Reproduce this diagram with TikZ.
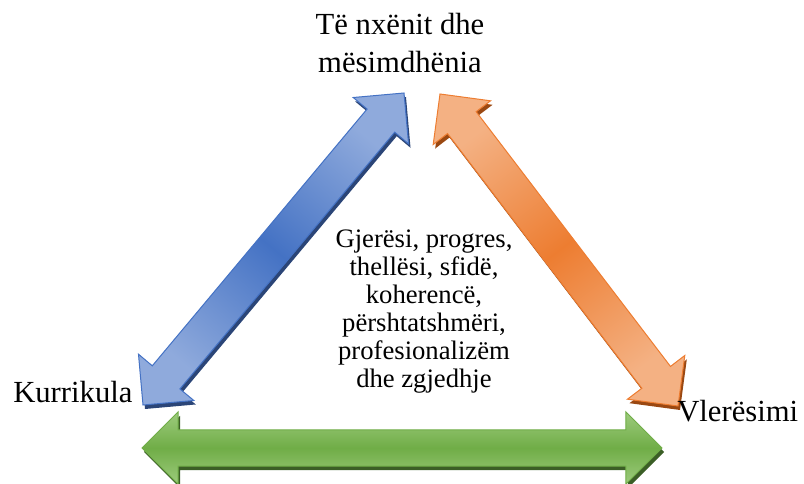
\documentclass[tikz,border=0pt]{standalone}
\usepackage{fontspec}
\setmainfont{Liberation Serif}
\usetikzlibrary{calc}

\definecolor{bluearr}{HTML}{4472C4}
\definecolor{bluelite}{HTML}{8FAADC}
\definecolor{blueshad}{HTML}{2B4577}
\definecolor{orangearr}{HTML}{ED7D31}
\definecolor{orangelite}{HTML}{F4B183}
\definecolor{orangeshad}{HTML}{9A4812}
\definecolor{greenarr}{HTML}{70AD47}
\definecolor{greenlite}{HTML}{9DCB7D}
\definecolor{greenshad}{HTML}{3B5E26}

\newcommand{\dblarrow}[2]{(#1) -- ($(#1)!38.25pt!45:(#2)$) -- ($(#1)!30.2pt!26.57:(#2)$)
  -- ($(#2)!30.2pt!-26.57:(#1)$) -- ($(#2)!38.25pt!-45:(#1)$) -- (#2)
  -- ($(#2)!38.25pt!45:(#1)$) -- ($(#2)!30.2pt!26.57:(#1)$)
  -- ($(#1)!30.2pt!-26.57:(#2)$) -- ($(#1)!38.25pt!-45:(#2)$) -- cycle}

\begin{document}
\begin{tikzpicture}[x=0.75pt,y=-0.75pt,line join=miter,
  label node/.style={font=\fontsize{23}{28.5}\selectfont,inner sep=0pt},
  mid node/.style={font=\fontsize{20}{21}\selectfont,align=center,inner sep=0pt},
  arrow shadow/.style={fill=#1,transform canvas={shift={(1.5pt,-3pt)}}},
  blue arrow/.style={draw=bluearr,line width=0.75pt,top color=bluelite,
    bottom color=bluelite,middle color=bluearr,shading angle=-40},
  orange arrow/.style={draw=orangearr,line width=0.75pt,top color=orangelite,
    bottom color=orangelite,middle color=orangearr,shading angle=37},
  green arrow/.style={draw=greenarr,line width=0.75pt,top color=greenlite,
    bottom color=greenlite,middle color=greenarr}]

  \useasboundingbox (0,0) rectangle (804,484);

  \coordinate (b1) at (143,405);
  \coordinate (b2) at (404,93);
  \coordinate (o1) at (440,94);
  \coordinate (o2) at (678,406);
  \coordinate (g1) at (142,448);
  \coordinate (g2) at (662,448);

  \fill[arrow shadow=blueshad] \dblarrow{b1}{b2};
  \path[blue arrow] \dblarrow{b1}{b2};
  \fill[arrow shadow=orangeshad] \dblarrow{o1}{o2};
  \path[orange arrow] \dblarrow{o1}{o2};
  \fill[arrow shadow=greenshad] \dblarrow{g1}{g2};
  \path[green arrow] \dblarrow{g1}{g2};

  \node[label node,align=center,anchor=north] (teach) at (400,13) {Të nxënit dhe\\mësimdhënia};
  \node[label node,anchor=base west] (curr) at (13,403) {Kurrikula};
  \node[label node,anchor=base west] (assess) at (677,422) {Vlerësimi};
  \node[mid node,anchor=north] (qual) at (424,229.5) {Gjerësi, progres,\\thellësi, sfidë,\\koherencë,\\përshtatshmëri,\\profesionalizëm\\dhe zgjedhje};
\end{tikzpicture}
\end{document}
